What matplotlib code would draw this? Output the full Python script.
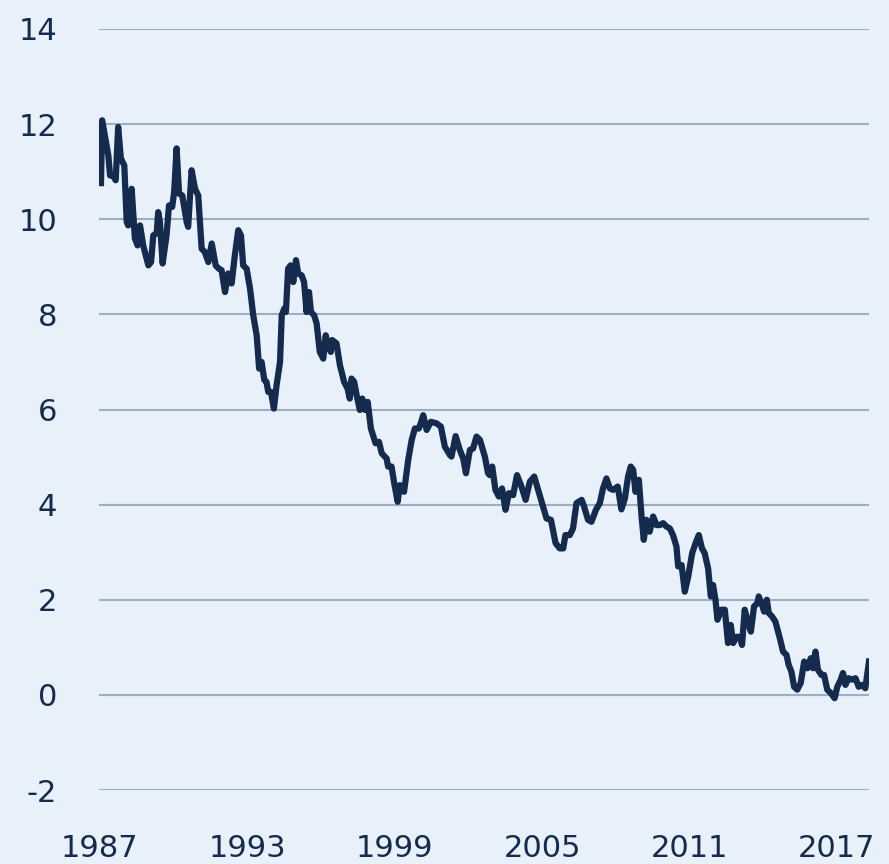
import matplotlib
matplotlib.use("Agg")
import matplotlib.pyplot as plt

# Yield (%), decimal year vs value
years = [1987.04, 1987.09, 1987.34, 1987.41, 1987.53, 1987.64, 1987.74, 1987.85, 1987.99, 1988.09,
         1988.15, 1988.29, 1988.42, 1988.53, 1988.63, 1988.76, 1988.97, 1989.08, 1989.17, 1989.31,
         1989.37, 1989.44, 1989.55, 1989.71, 1989.81, 1989.94, 1990.02, 1990.12, 1990.22, 1990.35,
         1990.53, 1990.59, 1990.73, 1990.87, 1991.00, 1991.14, 1991.27, 1991.41, 1991.55, 1991.71,
         1991.84, 1991.95, 1992.09, 1992.22, 1992.36, 1992.49, 1992.63, 1992.74, 1992.83, 1992.97,
         1993.11, 1993.24, 1993.38, 1993.48, 1993.58, 1993.69, 1993.78, 1993.85, 1993.96, 1994.08,
         1994.19, 1994.33, 1994.40, 1994.50, 1994.57, 1994.66, 1994.76, 1994.87, 1994.98, 1995.07,
         1995.21, 1995.31, 1995.41, 1995.51, 1995.59, 1995.72, 1995.82, 1995.95, 1996.09, 1996.19,
         1996.29, 1996.40, 1996.45, 1996.63, 1996.77, 1996.94, 1997.08, 1997.17, 1997.24, 1997.35,
         1997.45, 1997.58, 1997.68, 1997.79, 1997.90, 1998.03, 1998.22, 1998.36, 1998.47, 1998.67,
         1998.73, 1998.87, 1998.98, 1999.12, 1999.21, 1999.38, 1999.55, 1999.69, 1999.82, 1999.98,
         2000.06, 2000.16, 2000.30, 2000.47, 2000.70, 2000.88, 2001.04, 2001.25, 2001.31, 2001.48,
         2001.65, 2001.79, 2001.90, 2002.06, 2002.19, 2002.33, 2002.47, 2002.67, 2002.80, 2002.87,
         2002.97, 2003.10, 2003.24, 2003.37, 2003.51, 2003.65, 2003.82, 2003.98, 2004.16, 2004.33,
         2004.50, 2004.68, 2004.84, 2005.04, 2005.18, 2005.36, 2005.55, 2005.72, 2005.86, 2005.95,
         2006.13, 2006.26, 2006.40, 2006.61, 2006.71, 2006.87, 2007.01, 2007.19, 2007.35, 2007.48,
         2007.62, 2007.76, 2007.89, 2008.08, 2008.23, 2008.37, 2008.50, 2008.61, 2008.71, 2008.80,
         2008.94, 2009.05, 2009.14, 2009.25, 2009.38, 2009.52, 2009.66, 2009.79, 2009.93, 2010.06,
         2010.20, 2010.33, 2010.47, 2010.54, 2010.68, 2010.81, 2010.95, 2011.11, 2011.25, 2011.38,
         2011.51, 2011.62, 2011.76, 2011.87, 2011.96, 2012.06, 2012.14, 2012.30, 2012.44, 2012.57,
         2012.68, 2012.78, 2012.91, 2013.05, 2013.14, 2013.25, 2013.39, 2013.50, 2013.63, 2013.77,
         2013.82, 2013.93, 2014.04, 2014.15, 2014.23, 2014.36, 2014.50, 2014.68, 2014.81, 2014.95,
         2015.04, 2015.15, 2015.26, 2015.39, 2015.53, 2015.67, 2015.80, 2015.94, 2016.03, 2016.13,
         2016.23, 2016.37, 2016.48, 2016.61, 2016.75, 2016.91, 2017.02, 2017.16, 2017.25, 2017.35,
         2017.48, 2017.62, 2017.76, 2017.89, 2018.03, 2018.16, 2018.31]
values = [10.76, 12.08, 11.34, 10.92, 10.92, 10.82, 11.94, 11.28, 11.13, 9.94,
          9.87, 10.64, 9.60, 9.45, 9.87, 9.45, 9.03, 9.10, 9.66, 9.71,
          10.15, 9.94, 9.07, 9.66, 10.29, 10.26, 10.57, 11.49, 10.54, 10.50,
          9.94, 9.84, 11.03, 10.64, 10.50, 9.38, 9.31, 9.10, 9.49, 9.03,
          8.96, 8.93, 8.47, 8.86, 8.65, 9.24, 9.77, 9.66, 9.03, 8.96,
          8.54, 7.98, 7.56, 6.86, 7.00, 6.62, 6.58, 6.37, 6.37, 6.02,
          6.51, 7.00, 7.98, 8.12, 8.05, 8.96, 9.03, 8.68, 9.14, 8.86,
          8.82, 8.68, 8.05, 8.47, 8.05, 7.98, 7.81, 7.21, 7.07, 7.56,
          7.32, 7.21, 7.46, 7.39, 6.93, 6.58, 6.44, 6.23, 6.65, 6.58,
          6.30, 5.99, 6.23, 5.99, 6.16, 5.60, 5.29, 5.32, 5.08, 4.97,
          4.80, 4.80, 4.45, 4.06, 4.41, 4.27, 4.94, 5.36, 5.60, 5.60,
          5.71, 5.88, 5.57, 5.74, 5.71, 5.64, 5.22, 5.04, 5.01, 5.44,
          5.15, 4.97, 4.66, 5.15, 5.18, 5.43, 5.36, 5.01, 4.66, 4.62,
          4.80, 4.31, 4.17, 4.34, 3.89, 4.24, 4.20, 4.62, 4.38, 4.10,
          4.48, 4.59, 4.31, 3.96, 3.71, 3.68, 3.19, 3.08, 3.08, 3.36,
          3.36, 3.50, 4.03, 4.10, 3.96, 3.68, 3.64, 3.89, 4.03, 4.34,
          4.55, 4.34, 4.31, 4.38, 3.90, 4.13, 4.59, 4.80, 4.73, 4.27,
          4.52, 3.75, 3.26, 3.68, 3.43, 3.75, 3.57, 3.57, 3.61, 3.54,
          3.50, 3.36, 3.12, 2.70, 2.73, 2.17, 2.49, 2.98, 3.19, 3.36,
          3.08, 2.98, 2.66, 2.07, 2.31, 2.00, 1.58, 1.79, 1.79, 1.09,
          1.47, 1.09, 1.22, 1.22, 1.05, 1.79, 1.51, 1.33, 1.86, 1.93,
          2.07, 1.93, 1.75, 2.00, 1.72, 1.65, 1.54, 1.19, 0.91, 0.84,
          0.63, 0.49, 0.17, 0.11, 0.25, 0.70, 0.56, 0.77, 0.56, 0.91,
          0.53, 0.42, 0.42, 0.11, 0.04, -0.07, 0.17, 0.32, 0.46, 0.21,
          0.35, 0.32, 0.35, 0.17, 0.21, 0.14, 0.70]

tick_years = [1987, 1993, 1999, 2005, 2011, 2017]
y_ticks = [-2, 0, 2, 4, 6, 8, 10, 12, 14]

bg = '#E8F1FA'
navy = '#142B4E'

fig = plt.figure(figsize=(8.89, 8.64), dpi=100, facecolor=bg)
ax = fig.add_axes([99/889, 74/864, 770/889, 761/864], facecolor=bg)

ax.plot(years, values, color=navy, linewidth=4.5, solid_joinstyle='round', zorder=3)

ax.set_xlim(1986.96, 2018.31)
ax.set_ylim(-2, 14)
ax.set_yticks(y_ticks)
ax.set_yticklabels([str(v) for v in y_ticks])
ax.set_xticks(tick_years)
ax.set_xticklabels([str(v) for v in tick_years])
ax.grid(axis='y', color='#9DAEC0', linewidth=1.5)
ax.set_axisbelow(True)
for s in ax.spines.values():
    s.set_visible(False)
ax.tick_params(axis='both', length=0, labelsize=22, labelcolor=navy)
ax.tick_params(axis='y', pad=30)
ax.tick_params(axis='x', pad=32)

fig.savefig('out.png', dpi=100, facecolor=bg)
